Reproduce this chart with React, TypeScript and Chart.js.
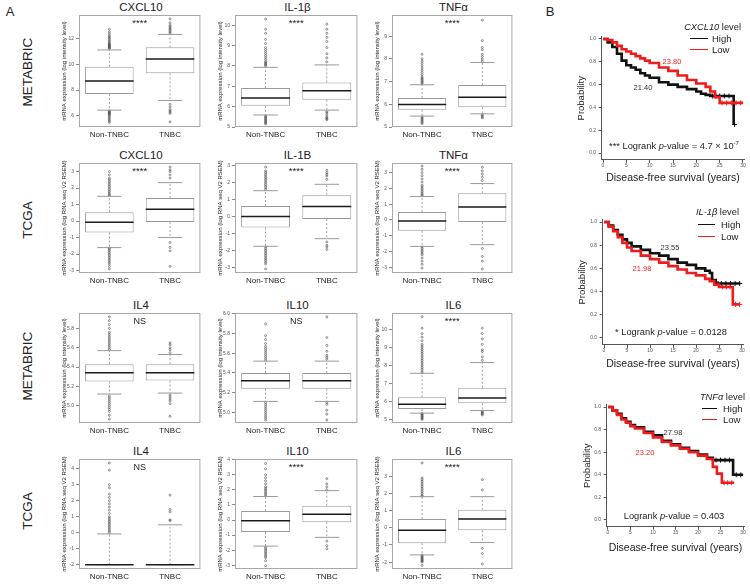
import React, { useEffect, useRef } from 'react';
import { Chart, registerables } from 'chart.js';

Chart.register(...registerables);

const FONT = '"Liberation Sans", Arial, Helvetica, sans-serif';

// ---------------- Panel A data ----------------
const groups = ['Non-TNBC', 'TNBC'];
// box statistics per group: [lower whisker, Q1, median, Q3, upper whisker]

// METABRIC CXCL10
const mbCXCL10Stats = [[6.45, 7.7, 8.7, 9.8, 11.1], [7.2, 9.3, 10.4, 11.3, 12.3]];
const mbCXCL10Out = [
  [11.2, 11.25, 11.3, 11.35, 11.4, 11.45, 11.5, 11.55, 11.6, 11.7, 11.8, 11.9, 12.0, 12.1, 12.2, 12.35, 12.5, 12.7, 6.4, 6.35, 6.3, 6.25, 6.2, 6.15, 6.1, 6.0, 5.9, 5.8, 5.7, 5.6, 5.5],
  [12.4, 12.5, 12.6, 12.7, 12.8, 12.9, 13.0, 13.2, 13.5, 6.9, 6.7, 6.5, 6.4, 6.3, 6.2, 5.55],
];
const mbCXCL10Ticks = [6, 8, 10, 12];

// METABRIC IL-1b
const mbIL1BStats = [[5.59, 6.04, 6.42, 6.91, 7.93], [5.83, 6.34, 6.78, 7.19, 8.05]];
const mbIL1BOut = [
  [8.0, 8.05, 8.1, 8.15, 8.2, 8.3, 8.4, 8.5, 8.6, 8.7, 8.8, 8.9, 9.1, 9.3, 9.6, 9.8, 10.3, 5.55, 5.5, 5.45, 5.4, 5.35, 5.3, 5.25, 5.2, 5.15],
  [8.2, 8.4, 8.6, 8.9, 9.2, 9.4, 9.6, 9.8, 10.05, 5.75, 5.7, 5.6, 5.5, 5.45, 5.4, 5.36],
];
const mbIL1BTicks = [5, 6, 7, 8, 9, 10];

// METABRIC TNFa
const mbTNFStats = [[5.48, 5.76, 5.99, 6.28, 6.86], [5.58, 5.87, 6.31, 6.85, 7.84]];
const mbTNFOut = [
  [6.9, 6.95, 7.0, 7.05, 7.1, 7.15, 7.2, 7.3, 7.4, 7.5, 7.6, 7.7, 7.8, 7.9, 8.0, 8.2, 5.45, 5.4, 5.35, 5.3, 5.25, 5.2, 5.15],
  [7.9, 8.0, 8.1, 8.2, 8.4, 8.5, 8.8, 9.7, 5.55, 5.5, 5.45, 5.4],
];
const mbTNFTicks = [5, 6, 7, 8, 9];

// TCGA CXCL10
const tcCXCL10Stats = [[-1.61, -0.69, -0.08, 0.53, 1.5], [-1.0, -0.06, 0.72, 1.4, 2.33]];
const tcCXCL10Out = [
  [1.55, 1.6, 1.7, 1.8, 1.9, 2.0, 2.1, 2.2, 2.3, 2.4, 2.5, 2.6, 2.8, 3.0, -1.65, -1.7, -1.8, -1.9, -2.0, -2.1, -2.2, -2.3, -2.4, -2.5, -2.6, -2.75, -2.9],
  [2.6, 2.8, 3.0, 3.1, 3.27, -1.3, -1.6, -1.8, -2.75],
];
const tcCXCL10Ticks = [-3, -2, -1, 0, 1, 2, 3];

// TCGA IL-1B
const tcIL1BStats = [[-1.76, -0.65, 0.0, 0.63, 1.53], [-1.31, -0.15, 0.6, 1.26, 1.91]];
const tcIL1BOut = [
  [1.6, 1.7, 1.8, 1.9, 2.0, 2.1, 2.2, 2.3, 2.4, 2.5, 2.6, 2.7, 2.93, -1.8, -1.9, -2.0, -2.1, -2.2, -2.3, -2.4, -2.5, -2.6, -2.7, -2.8, -3.1],
  [2.2, 2.4, 2.5, 2.6, 2.74, -1.5, -1.7, -1.8, -1.95],
];
const tcIL1BTicks = [-3, -2, -1, 0, 1, 2, 3];

// TCGA TNFa
const tcTNFStats = [[-1.67, -0.68, -0.06, 0.51, 1.48], [-1.56, -0.12, 0.82, 1.69, 2.3]];
const tcTNFOut = [
  [1.55, 1.6, 1.7, 1.8, 1.9, 2.0, 2.1, 2.2, 2.4, 2.6, 2.8, 3.0, 3.2, 3.4, -1.7, -1.8, -1.9, -2.0, -2.1, -2.2, -2.4, -2.6, -2.8, -3.04],
  [2.5, 2.7, 2.9, 3.1, 3.33, -1.8, -2.3, -2.6, -3.1],
];
const tcTNFTicks = [-3, -2, -1, 0, 1, 2, 3];

// METABRIC IL4
const mbIL4Stats = [[5.12, 5.25, 5.34, 5.43, 5.57], [5.13, 5.26, 5.34, 5.43, 5.53]];
const mbIL4Out = [
  [5.58, 5.6, 5.62, 5.64, 5.66, 5.68, 5.7, 5.72, 5.74, 5.76, 5.8, 5.84, 5.88, 5.92, 5.1, 5.08, 5.06, 5.04, 5.02, 5.0, 4.98, 4.96, 4.94, 4.9, 4.86],
  [5.55, 5.58, 5.6, 5.63, 5.65, 5.11, 5.09, 5.07, 5.05, 5.02, 4.89],
];
const mbIL4Ticks = [5.0, 5.2, 5.4, 5.6, 5.8];

// METABRIC IL10
const mbIL10Stats = [[5.11, 5.24, 5.32, 5.4, 5.52], [5.11, 5.24, 5.32, 5.4, 5.52]];
const mbIL10Out = [
  [5.53, 5.55, 5.57, 5.59, 5.61, 5.63, 5.65, 5.67, 5.7, 5.74, 5.78, 5.9, 5.1, 5.08, 5.06, 5.04, 5.02, 5.0, 4.98, 4.96, 4.94, 4.92],
  [5.54, 5.56, 5.58, 5.62, 5.68, 5.76, 5.97, 5.1, 5.08, 5.02, 4.98, 4.92],
];
const mbIL10Ticks = [5.0, 5.2, 5.4, 5.6, 5.8, 6.0];

// METABRIC IL6
const mbIL6Stats = [[5.35, 5.58, 5.85, 6.24, 7.58], [5.5, 5.9, 6.2, 6.77, 8.18]];
const mbIL6Out = [
  [7.6, 7.7, 7.8, 7.9, 8.0, 8.1, 8.2, 8.3, 8.4, 8.5, 8.6, 8.7, 8.8, 8.9, 9.0, 9.1, 9.2, 9.4, 9.6, 9.8, 10.1, 10.74, 5.33, 5.3, 5.25, 5.2, 5.15, 5.1, 5.05, 5.0],
  [8.3, 8.5, 8.8, 8.9, 9.2, 9.5, 9.8, 10.1, 5.45, 5.4, 5.35, 5.3, 5.25],
];
const mbIL6Ticks = [5, 6, 7, 8, 9, 10];

// TCGA IL4
const tcIL4Stats = [[-2, -2, -2, -2, -0.08], [-2, -2, -2, -2, 0.49]];
const tcIL4Out = [
  [0.0, 0.1, 0.2, 0.3, 0.4, 0.5, 0.6, 0.7, 0.8, 0.9, 1.0, 1.2, 1.4, 1.6, 1.8, 2.0, 2.2, 2.4, 2.8, 3.0, 3.9, 4.35],
  [0.75, 0.8, 1.3, 1.45, 2.35],
];
const tcIL4Ticks = [-2, -1, 0, 1, 2, 3, 4];

// TCGA IL10
const tcIL10Stats = [[-1.73, -0.8, -0.05, 0.6, 1.56], [-1.15, -0.15, 0.39, 0.95, 1.95]];
const tcIL10Out = [
  [1.6, 1.7, 1.8, 1.9, 2.0, 2.1, 2.2, 2.4, 2.6, 2.8, 3.0, 3.4, 3.75, -1.8, -1.9, -2.0, -2.1, -2.2, -2.3, -2.4, -2.5, -2.7, -3.03],
  [2.0, 2.2, 2.4, 2.75, -1.4, -1.7, -1.9],
];
const tcIL10Ticks = [-3, -2, -1, 0, 1, 2, 3, 4];

// TCGA IL6
const tcIL6Stats = [[-1.58, -0.9, -0.14, 0.51, 1.81], [-0.86, -0.15, 0.51, 1.05, 1.81]];
const tcIL6Out = [
  [1.85, 1.9, 2.0, 2.1, 2.2, 2.3, 2.4, 2.5, 2.6, 2.7, 2.8, 2.9, 3.77, -1.6, -1.65, -1.7, -1.75, -1.8, -1.85, -1.9, -1.95, -2.0, -2.19],
  [2.2, 2.8, -1.2, -1.5, -2.1],
];
const tcIL6Ticks = [-2, -1, 0, 1, 2, 3];

const yTitleMB = 'mRNA expression (log intensity level)';
const yTitleTC = 'mRNA expression (log RNA seq V2 RSEM)';

// ---------------- Panel B data ----------------
const kmTicksX = [0, 5, 10, 15, 20, 25, 30];
const kmTicksY = [0, 0.2, 0.4, 0.6, 0.8, 1.0];

const cxHighT = [0, 1, 2, 3, 4, 5, 6, 7, 8, 9, 10, 12, 14, 16, 18, 20, 21, 22, 23, 28];
const cxHighS = [1.0, 0.97, 0.93, 0.87, 0.81, 0.77, 0.75, 0.73, 0.7, 0.68, 0.66, 0.62, 0.6, 0.58, 0.56, 0.54, 0.52, 0.51, 0.5, 0.25];
const cxHighCens = [23.5, 24.2, 25, 26, 27, 28.2];
const cxLowT = [0, 1, 2, 3, 4, 5, 6, 7, 8, 9, 10, 12, 14, 16, 18, 20, 22, 23, 24, 25, 30];
const cxLowS = [1.0, 0.99, 0.97, 0.94, 0.91, 0.89, 0.87, 0.85, 0.83, 0.81, 0.79, 0.75, 0.72, 0.68, 0.64, 0.61, 0.58, 0.54, 0.49, 0.44, 0.44];
const cxLowCens = [25.5, 26.5, 27.5, 28.5, 29.5];

const ilHighT = [0, 1, 2, 3, 4, 5, 6, 8, 10, 12, 14, 16, 18, 20, 22, 23, 23.5, 24.3, 29.5];
const ilHighS = [1, 0.97, 0.93, 0.89, 0.85, 0.82, 0.79, 0.76, 0.73, 0.71, 0.68, 0.65, 0.63, 0.6, 0.58, 0.56, 0.5, 0.47, 0.47];
const ilHighCens = [24.8, 25.5, 26.5, 27.5, 28.5, 29.5];
const ilLowT = [0, 1, 2, 3, 4, 5, 6, 8, 10, 12, 14, 16, 18, 20, 22, 23, 24, 25, 28, 29.5];
const ilLowS = [1, 0.96, 0.92, 0.87, 0.82, 0.78, 0.75, 0.71, 0.68, 0.65, 0.62, 0.59, 0.56, 0.54, 0.51, 0.49, 0.46, 0.44, 0.29, 0.29];
const ilLowCens = [25.8, 26.6, 27.4, 28.6, 29.5];

const tnHighT = [0, 1, 2, 3, 4, 5, 6, 8, 10, 12, 14, 16, 18, 20, 22, 23.3, 27.8, 30];
const tnHighS = [1, 0.97, 0.94, 0.9, 0.87, 0.84, 0.82, 0.78, 0.75, 0.7, 0.67, 0.64, 0.61, 0.58, 0.55, 0.53, 0.4, 0.4];
const tnHighCens = [24, 25, 26, 27, 28.5, 29.5];
const tnLowT = [0, 1, 2, 3, 4, 5, 6, 8, 10, 12, 14, 16, 18, 20, 22, 23.3, 24.2, 25.3, 28];
const tnLowS = [1, 0.97, 0.93, 0.89, 0.86, 0.83, 0.81, 0.77, 0.73, 0.69, 0.66, 0.63, 0.6, 0.57, 0.54, 0.47, 0.41, 0.33, 0.33];
const tnLowCens = [25.8, 26.6, 27.5];

const RED = '#ee1c1c';
const BLACK = '#111111';

// ---------------- layout ----------------
const colX = [[79, 203], [235, 360], [392, 515]];
const rowY = [[15, 127], [163, 273], [313, 423], [459, 569]];

type BoxSpec = {
  title: string; yTitle: string; stats: number[][]; out: number[][];
  ticks: number[]; ymin: number; ymax: number; dec: number; sig: string; row: number; col: number;
};

const boxPanels: BoxSpec[] = [
  { title: 'CXCL10', yTitle: yTitleMB, stats: mbCXCL10Stats, out: mbCXCL10Out, ticks: mbCXCL10Ticks, ymin: 5.15, ymax: 13.8, dec: 0, sig: '****', row: 0, col: 0 },
  { title: 'IL-1β', yTitle: yTitleMB, stats: mbIL1BStats, out: mbIL1BOut, ticks: mbIL1BTicks, ymin: 5.0, ymax: 10.5, dec: 0, sig: '****', row: 0, col: 1 },
  { title: 'TNFα', yTitle: yTitleMB, stats: mbTNFStats, out: mbTNFOut, ticks: mbTNFTicks, ymin: 5.0, ymax: 9.93, dec: 0, sig: '****', row: 0, col: 2 },
  { title: 'CXCL10', yTitle: yTitleTC, stats: tcCXCL10Stats, out: tcCXCL10Out, ticks: tcCXCL10Ticks, ymin: -3.15, ymax: 3.52, dec: 0, sig: '****', row: 1, col: 0 },
  { title: 'IL-1B', yTitle: yTitleTC, stats: tcIL1BStats, out: tcIL1BOut, ticks: tcIL1BTicks, ymin: -3.34, ymax: 3.17, dec: 0, sig: '****', row: 1, col: 1 },
  { title: 'TNFα', yTitle: yTitleTC, stats: tcTNFStats, out: tcTNFOut, ticks: tcTNFTicks, ymin: -3.35, ymax: 3.6, dec: 0, sig: '****', row: 1, col: 2 },
  { title: 'IL4', yTitle: yTitleMB, stats: mbIL4Stats, out: mbIL4Out, ticks: mbIL4Ticks, ymin: 4.82, ymax: 5.96, dec: 1, sig: 'NS', row: 2, col: 0 },
  { title: 'IL10', yTitle: yTitleMB, stats: mbIL10Stats, out: mbIL10Out, ticks: mbIL10Ticks, ymin: 4.89, ymax: 6.01, dec: 1, sig: 'NS', row: 2, col: 1 },
  { title: 'IL6', yTitle: yTitleMB, stats: mbIL6Stats, out: mbIL6Out, ticks: mbIL6Ticks, ymin: 4.8, ymax: 10.95, dec: 0, sig: '****', row: 2, col: 2 },
  { title: 'IL4', yTitle: yTitleTC, stats: tcIL4Stats, out: tcIL4Out, ticks: tcIL4Ticks, ymin: -2.27, ymax: 4.6, dec: 0, sig: 'NS', row: 3, col: 0 },
  { title: 'IL10', yTitle: yTitleTC, stats: tcIL10Stats, out: tcIL10Out, ticks: tcIL10Ticks, ymin: -3.25, ymax: 4.05, dec: 0, sig: '****', row: 3, col: 1 },
  { title: 'IL6', yTitle: yTitleTC, stats: tcIL6Stats, out: tcIL6Out, ticks: tcIL6Ticks, ymin: -2.4, ymax: 4.0, dec: 0, sig: '****', row: 3, col: 2 },
];

const boxPlugin = {
  id: 'boxExtras',
  afterDatasetsDraw(chart: any, _args: any, opts: any) {
    const { ctx, chartArea, scales } = chart;
    const ys = scales.y;
    const meta = chart.getDatasetMeta(0);
    const yp = (v: number) => ys.getPixelForValue(v);
    const seg = (x1: number, y1: number, x2: number, y2: number) => {
      ctx.beginPath(); ctx.moveTo(x1, y1); ctx.lineTo(x2, y2); ctx.stroke();
    };
    ctx.save();
    (opts.stats as number[][]).forEach((s, i) => {
      const bar = meta.data[i];
      const cx = bar.x;
      const bw = bar.width;
      const [wl, q1, med, q3, wh] = s;
      ctx.strokeStyle = '#8a8a8a';
      ctx.lineWidth = 0.8;
      ctx.setLineDash([2, 2]);
      if (wh > q3) seg(cx, yp(q3), cx, yp(wh));
      if (wl < q1) seg(cx, yp(q1), cx, yp(wl));
      ctx.setLineDash([]);
      ctx.lineWidth = 1;
      ctx.strokeStyle = '#9a9a9a';
      seg(cx - bw / 4, yp(wh), cx + bw / 4, yp(wh));
      seg(cx - bw / 4, yp(wl), cx + bw / 4, yp(wl));
      ctx.strokeStyle = '#1a1a1a';
      ctx.lineWidth = 1.5;
      seg(cx - bw / 2, yp(med), cx + bw / 2, yp(med));
    });
    ctx.strokeStyle = '#a8a8a8';
    ctx.lineWidth = 1;
    ctx.strokeRect(chartArea.left + 0.5, chartArea.top + 0.5, chartArea.width - 1, chartArea.height - 1);
    ctx.fillStyle = '#222';
    ctx.font = `${opts.sig === 'NS' ? 9 : 9.5}px ${FONT}`;
    ctx.textAlign = 'center';
    ctx.textBaseline = 'middle';
    ctx.fillText(opts.sig, (chartArea.left + chartArea.right) / 2, chartArea.top + (opts.sig === 'NS' ? 9 : 8.5));
    ctx.restore();
  },
};

function BoxPanel({ spec }: { spec: BoxSpec }) {
  const ref = useRef<HTMLCanvasElement>(null);
  const [pl, pr] = colX[spec.col];
  const [pt, pb] = rowY[spec.row];
  const YW = 24, PT = 8, XH = 18, PR = 2;
  const cw = pr - pl + YW + PR;
  const ch = pb - pt + PT + XH;
  useEffect(() => {
    const chart = new Chart(ref.current as HTMLCanvasElement, {
      type: 'bar',
      data: {
        labels: groups,
        datasets: [
          {
            type: 'bar',
            data: spec.stats.map((s) => [s[1], s[3]]) as any,
            backgroundColor: '#ffffff',
            borderColor: '#9a9a9a',
            borderWidth: 1,
            borderSkipped: false,
            barPercentage: 0.8,
            categoryPercentage: 1,
            grouped: false,
            order: 2,
          } as any,
          {
            type: 'scatter',
            data: spec.out.flatMap((arr, i) => arr.map((v) => ({ x: groups[i], y: v }))) as any,
            pointStyle: 'circle',
            pointRadius: 1.0,
            borderColor: '#4a4a4a',
            backgroundColor: 'rgba(0,0,0,0)',
            borderWidth: 0.6,
            order: 1,
          } as any,
        ],
      },
      options: {
        responsive: false,
        animation: false,
        events: [],
        layout: { padding: { top: PT, right: PR, left: 0, bottom: 0 } },
        plugins: {
          legend: { display: false },
          tooltip: { enabled: false },
          boxExtras: { stats: spec.stats, sig: spec.sig },
        } as any,
        scales: {
          x: {
            type: 'category',
            offset: true,
            grid: { display: false, drawTicks: false },
            border: { display: false },
            ticks: { color: '#222', font: { family: FONT, size: 8 }, padding: 3, maxRotation: 0, autoSkip: false },
            afterFit: (s: any) => { s.height = XH; },
          },
          y: {
            type: 'linear',
            min: spec.ymin,
            max: spec.ymax,
            grid: { drawOnChartArea: false, drawTicks: true, tickLength: 3, color: '#888' },
            border: { display: false },
            ticks: {
              color: '#555',
              font: { family: FONT, size: 5 },
              padding: 2,
              callback: (v: any) => Number(v).toFixed(spec.dec),
            },
            afterBuildTicks: (s: any) => { s.ticks = spec.ticks.map((v) => ({ value: v })); },
            afterFit: (s: any) => { s.width = YW; },
            title: { display: true, text: spec.yTitle, color: '#222', font: { family: FONT, size: 6 }, padding: { top: 5.4, bottom: 0 } },
          },
        } as any,
      },
      plugins: [boxPlugin],
    });
    return () => chart.destroy();
  }, []);
  return (
    <canvas
      ref={ref}
      width={cw}
      height={ch}
      style={{ position: 'absolute', left: pl - YW, top: pt - PT, width: cw, height: ch }}
    />
  );
}

type KMSpec = {
  hiT: number[]; hiS: number[]; hiC: number[];
  loT: number[]; loS: number[]; loC: number[];
  L: number; R: number; T: number; B: number; // chart area px
  xmin: number; xmax: number; ymin: number; ymax: number;
  cl: number; ct: number; cw: number; ch: number; // canvas
  yTitleX: number; xTitleY: number;
};

const stepAt = (ts: number[], ss: number[], t: number) => {
  let v = ss[0];
  for (let i = 0; i < ts.length; i++) if (ts[i] <= t) v = ss[i];
  return v;
};

function KMChart({ spec }: { spec: KMSpec }) {
  const ref = useRef<HTMLCanvasElement>(null);
  useEffect(() => {
    const yw = spec.L - spec.cl;
    const padR = spec.cl + spec.cw - spec.R;
    const padT = spec.T - spec.ct;
    const xh = spec.ct + spec.ch - spec.B;
    const xTitleLH = 10.5 * 1.2;
    const yTitleLH = 9.5 * 1.2;
    const line = (ts: number[], ss: number[], color: string) => ({
      type: 'line',
      data: ts.map((t, i) => ({ x: t, y: ss[i] })),
      stepped: true,
      borderColor: color,
      borderWidth: 2.6,
      pointRadius: 0,
      fill: false,
      clip: false,
    });
    const cens = (cs: number[], ts: number[], ss: number[], color: string) => ({
      type: 'scatter',
      data: cs.map((c) => ({ x: c, y: stepAt(ts, ss, c) })),
      pointStyle: 'cross',
      pointRadius: 2.5,
      borderColor: color,
      borderWidth: 1,
      clip: false,
    });
    const chart = new Chart(ref.current as HTMLCanvasElement, {
      type: 'line',
      data: {
        datasets: [
          line(spec.loT, spec.loS, RED),
          cens(spec.loC, spec.loT, spec.loS, RED),
          line(spec.hiT, spec.hiS, BLACK),
          cens(spec.hiC, spec.hiT, spec.hiS, BLACK),
        ] as any,
      },
      options: {
        responsive: false,
        animation: false,
        events: [],
        layout: { padding: { top: padT, right: padR, left: 0, bottom: 0 } },
        plugins: { legend: { display: false }, tooltip: { enabled: false } },
        scales: {
          x: {
            type: 'linear',
            min: spec.xmin,
            max: spec.xmax,
            grid: { drawOnChartArea: false, drawTicks: true, tickLength: 3, color: '#555' },
            border: { display: true, color: '#555', width: 1 },
            ticks: { color: '#555', font: { family: FONT, size: 5 }, padding: 0, maxRotation: 0 },
            afterBuildTicks: (s: any) => { s.ticks = kmTicksX.map((v) => ({ value: v })); },
            afterFit: (s: any) => { s.height = xh; },
            title: {
              display: true,
              text: 'Disease-free survival (years)',
              color: '#222',
              font: { family: FONT, size: 10.5 },
              padding: { top: 0, bottom: spec.ct + spec.ch - xTitleLH / 2 - spec.xTitleY },
            },
          },
          y: {
            type: 'linear',
            min: spec.ymin,
            max: spec.ymax,
            grid: { drawOnChartArea: false, drawTicks: true, tickLength: 3, color: '#555' },
            border: { display: true, color: '#555', width: 1 },
            ticks: {
              color: '#555',
              font: { family: FONT, size: 5 },
              padding: 2.5,
              callback: (v: any) => Number(v).toFixed(1),
            },
            afterBuildTicks: (s: any) => { s.ticks = kmTicksY.map((v) => ({ value: v })); },
            afterFit: (s: any) => { s.width = yw; },
            title: {
              display: true,
              text: 'Probability',
              color: '#222',
              font: { family: FONT, size: 9.5 },
              padding: { top: spec.yTitleX - spec.cl - yTitleLH / 2, bottom: 0 },
            },
          },
        } as any,
      },
    });
    return () => chart.destroy();
  }, []);
  return (
    <canvas
      ref={ref}
      width={spec.cw}
      height={spec.ch}
      style={{ position: 'absolute', left: spec.cl, top: spec.ct, width: spec.cw, height: spec.ch }}
    />
  );
}

// chart-area geometry derived from where 0/30 years and 0/1 probability sit
const kmGeom = (x0: number, x30: number, y1: number, y0: number) => {
  const xmin = -0.3, xmax = 30.3, ymin = -0.06, ymax = 1.02;
  const px = (x30 - x0) / 30;
  const py = y0 - y1;
  return {
    xmin, xmax, ymin, ymax,
    L: x0 + xmin * px, R: x0 + xmax * px,
    T: y0 - ymax * py, B: y0 - ymin * py,
  };
};

const kmSpecs: KMSpec[] = [
  { hiT: cxHighT, hiS: cxHighS, hiC: cxHighCens, loT: cxLowT, loS: cxLowS, loC: cxLowCens,
    ...kmGeom(603, 743, 39, 153), cl: 565, ct: 25, cw: 185, ch: 162, yTitleX: 581, xTitleY: 178 },
  { hiT: ilHighT, hiS: ilHighS, hiC: ilHighCens, loT: ilLowT, loS: ilLowS, loC: ilLowCens,
    ...kmGeom(604, 742, 222, 338), cl: 565, ct: 205, cw: 185, ch: 167, yTitleX: 582, xTitleY: 364 },
  { hiT: tnHighT, hiS: tnHighS, hiC: tnHighCens, loT: tnLowT, loS: tnLowS, loC: tnLowCens,
    ...kmGeom(608, 743, 407, 520), cl: 565, ct: 390, cw: 185, ch: 166, yTitleX: 587, xTitleY: 548 },
];

type TxtProps = {
  x: number; y: number; size: number; children: React.ReactNode;
  anchor?: 'start' | 'center' | 'end'; color?: string; italic?: boolean; rotate?: number;
};
function Txt({ x, y, size, children, anchor = 'center', color = '#222', italic, rotate }: TxtProps) {
  const tx = anchor === 'center' ? '-50%' : anchor === 'end' ? '-100%' : '0';
  return (
    <div
      style={{
        position: 'absolute', left: x, top: y,
        transform: `translate(${tx}, -50%)${rotate ? ` rotate(${rotate}deg)` : ''}`,
        fontSize: size, fontFamily: FONT, color, whiteSpace: 'nowrap', lineHeight: 1,
        fontStyle: italic ? 'italic' : 'normal',
      }}
    >
      {children}
    </div>
  );
}

function LegLine({ x1, x2, y, color }: { x1: number; x2: number; y: number; color: string }) {
  return <div style={{ position: 'absolute', left: x1, top: y - 0.6, width: x2 - x1, height: 0, borderTop: `1.3px solid ${color}` }} />;
}

const kmLegends = [
  { gene: 'CXCL10', titleRight: 741, titleY: 28, lx1: 690, lx2: 708, tx: 712, hiY: 39, loY: 50 },
  { gene: 'IL-1β', titleRight: 739, titleY: 213, lx1: 698, lx2: 715, tx: 721, hiY: 225, loY: 237 },
  { gene: 'TNFα', titleRight: 745, titleY: 398, lx1: 702, lx2: 717, tx: 723, hiY: 409, loY: 420 },
];

const kmMedians = [
  { hi: '21.40', hiX: 643, hiY: 88, lo: '23.80', loX: 672, loY: 62 },
  { hi: '23.55', hiX: 670, hiY: 248, lo: '21.98', loX: 642, loY: 269 },
  { hi: '27.98', hiX: 673, hiY: 433, lo: '23.20', loX: 645, loY: 453 },
];

export default function App() {
  return (
    <div style={{ position: 'absolute', left: 0, top: 0, width: 750, height: 584, background: '#fff', overflow: 'hidden', fontFamily: FONT }}>
      <Txt x={10} y={11} size={13}>A</Txt>
      <Txt x={550} y={11} size={13}>B</Txt>

      <Txt x={28} y={72} size={13.5} rotate={-90}>METABRIC</Txt>
      <Txt x={28} y={220} size={13.5} rotate={-90}>TCGA</Txt>
      <Txt x={28} y={366} size={13.5} rotate={-90}>METABRIC</Txt>
      <Txt x={28} y={511} size={13.5} rotate={-90}>TCGA</Txt>

      {boxPanels.map((p, i) => (
        <React.Fragment key={i}>
          <Txt x={(colX[p.col][0] + colX[p.col][1]) / 2} y={rowY[p.row][0] - 7.5} size={11.5}>{p.title}</Txt>
          <BoxPanel spec={p} />
        </React.Fragment>
      ))}

      {kmSpecs.map((s, i) => (
        <KMChart key={i} spec={s} />
      ))}

      {kmLegends.map((l, i) => (
        <React.Fragment key={i}>
          <Txt x={l.titleRight} y={l.titleY} size={9.3} anchor="end"><i>{l.gene}</i> level</Txt>
          <LegLine x1={l.lx1} x2={l.lx2} y={l.hiY} color={BLACK} />
          <LegLine x1={l.lx1} x2={l.lx2} y={l.loY} color={RED} />
          <Txt x={l.tx} y={l.hiY} size={9.5} anchor="start">High</Txt>
          <Txt x={l.tx} y={l.loY} size={9.5} anchor="start">Low</Txt>
        </React.Fragment>
      ))}

      {kmMedians.map((m, i) => (
        <React.Fragment key={i}>
          <Txt x={m.hiX} y={m.hiY} size={7.5} color="#333">{m.hi}</Txt>
          <Txt x={m.loX} y={m.loY} size={7.5} color={RED}>{m.lo}</Txt>
        </React.Fragment>
      ))}

      <Txt x={674} y={146} size={9.3}>*** Logrank <i>p</i>-value = 4.7 × 10<sup style={{ fontSize: 6, verticalAlign: 4 }}>-7</sup></Txt>
      <Txt x={671} y={333} size={9.3}>* Logrank <i>p</i>-value = 0.0128</Txt>
      <Txt x={674} y={517} size={9.3}>Logrank <i>p</i>-value = 0.403</Txt>
    </div>
  );
}
